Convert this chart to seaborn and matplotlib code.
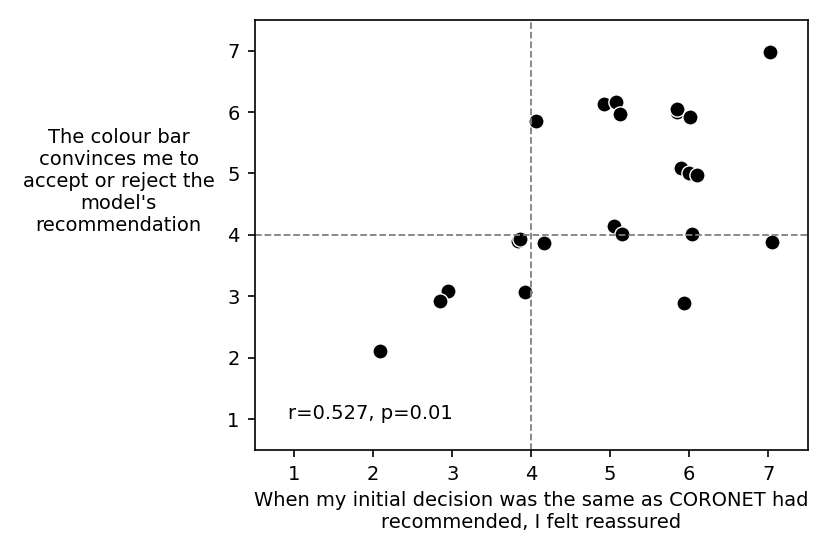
import numpy as np
import pandas as pd
import seaborn as sns
import matplotlib.pyplot as plt

# answers (slightly jittered likert scores)
reassured = [4.06, 4.92, 5.07, 5.13, 5.85, 5.85, 6.01, 5.90, 6.00, 6.10,
             5.05, 5.15, 6.03, 7.05, 3.83, 3.86, 4.16, 3.92, 5.94, 2.95,
             2.84, 2.08, 7.02]
colour_bar = [5.86, 6.13, 6.16, 5.97, 6.00, 6.05, 5.92, 5.09, 5.01, 4.98,
              4.15, 4.02, 4.02, 3.89, 3.90, 3.93, 3.86, 3.07, 2.89, 3.09,
              2.92, 2.11, 6.97]
stat_text = 'r=0.527, p=0.01'

df = pd.DataFrame({'x': reassured, 'y': colour_bar})

sns.set_style('ticks', {'text.color': 'black', 'axes.labelcolor': 'black',
                        'xtick.color': 'black', 'ytick.color': 'black',
                        'axes.edgecolor': 'black'})
plt.rcParams['font.family'] = ['DejaVu Sans']
plt.rcParams['font.size'] = 14

fig, ax = plt.subplots(figsize=(8.3, 5.54), dpi=100)
sns.scatterplot(data=df, x='x', y='y', color='black', edgecolor='white',
                s=120, linewidth=1, ax=ax)
ax.axvline(4, color='grey', linestyle='--', linewidth=1.3)
ax.axhline(4, color='grey', linestyle='--', linewidth=1.3)
ax.set_xlim(0.5, 7.5)
ax.set_ylim(0.5, 7.5)
ax.set_xticks(range(1, 8))
ax.set_yticks(range(1, 8))
ax.tick_params(labelsize=14, length=5, width=1.2, pad=6)
for s in ax.spines.values():
    s.set_linewidth(1.2)
ax.text(0.92, 1.0, stat_text, fontsize=14)
ax.set_xlabel('When my initial decision was the same as CORONET had\nrecommended, I felt reassured',
              fontsize=14, labelpad=5)
ax.set_ylabel("The colour bar\nconvinces me to\naccept or reject the\nmodel's\nrecommendation",
              rotation=0, fontsize=14, ha='center', va='bottom', labelpad=78)
plt.subplots_adjust(left=0.307, right=0.973, top=0.964, bottom=0.188)
plt.savefig('out.png', dpi=100)
